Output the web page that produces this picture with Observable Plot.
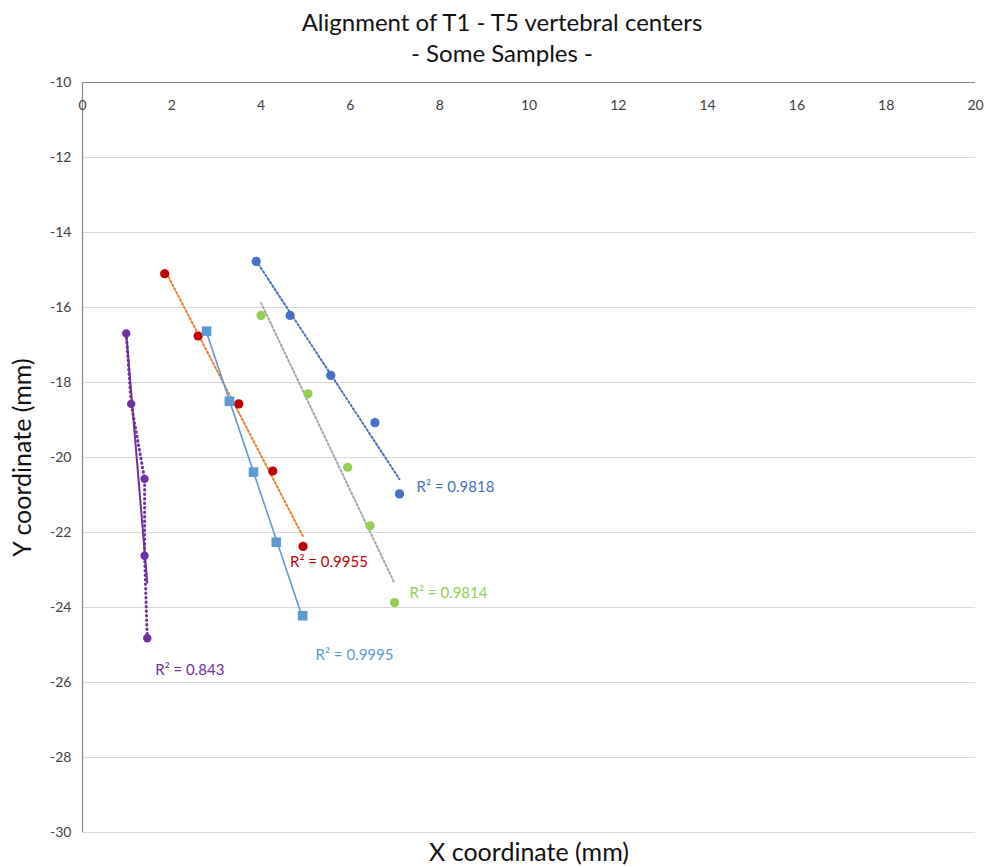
<!DOCTYPE html>
<html>
<head>
<meta charset="utf-8">
<script src="https://cdn.jsdelivr.net/npm/d3@7"></script>
<script src="https://cdn.jsdelivr.net/npm/@observablehq/plot@0.6"></script>
<style>
  body { margin: 0; background: #fff; font-family: Lato, "Open Sans", sans-serif; }
  #title { height: 70px; box-sizing: border-box; padding-top: 6px; text-align: center; font-size: 24px; line-height: 31px; color: #111; width: 988px; padding-left: 16px; }
</style>
</head>
<body>
<div id="title">Alignment of T1 - T5 vertebral centers<br>- Some Samples -</div>
<div id="chart"></div>
<script>
// ---- data ----
const seriesNames = ["Sample 1", "Sample 2", "Sample 3", "Sample 4", "Sample 5"];
const purpleX = [0.98, 1.09, 1.39, 1.39, 1.45];
const purpleY = [-16.69, -18.57, -20.57, -22.62, -24.82];
const redX = [1.84, 2.59, 3.50, 4.26, 4.94];
const redY = [-15.10, -16.76, -18.57, -20.36, -22.37];
const lightBlueX = [2.78, 3.29, 3.83, 4.34, 4.93];
const lightBlueY = [-16.63, -18.50, -20.39, -22.26, -24.22];
const blueX = [3.89, 4.65, 5.56, 6.55, 7.10];
const blueY = [-14.77, -16.21, -17.81, -19.07, -20.97];
const greenX = [4.00, 5.05, 5.94, 6.44, 6.99];
const greenY = [-16.21, -18.30, -20.26, -21.82, -23.87];
const r2Labels = ["R² = 0.843", "R² = 0.9955", "R² = 0.9995", "R² = 0.9818", "R² = 0.9814"];
const xTicks = [0, 2, 4, 6, 8, 10, 12, 14, 16, 18, 20];
const yTicks = [-10, -12, -14, -16, -18, -20, -22, -24, -26, -28, -30];

// ---- styles (kept apart from data) ----
const styles = [
  {color: "#7030A0", trend: "#7030A0", dash: null, symbol: "circle", r: 4.2, connect: true, ldx: 8, ldy: 32},
  {color: "#C00000", trend: "#ED7D31", dash: "1.8,2.4", symbol: "circle", r: 4.6, connect: false, ldx: -13, ldy: 16},
  {color: "#5B9BD5", trend: "#5B9BD5", dash: null, symbol: "square", r: 5.4, connect: false, ldx: 13, ldy: 39},
  {color: "#4472C4", trend: "#4472C4", dash: "1.8,2.4", symbol: "circle", r: 4.6, connect: false, ldx: 17, ldy: -7},
  {color: "#92D050", trend: "#A5A5A5", dash: "1.8,2.4", symbol: "circle", r: 4.6, connect: false, ldx: 15, ldy: -9}
];

const xs = [purpleX, redX, lightBlueX, blueX, greenX];
const ys = [purpleY, redY, lightBlueY, blueY, greenY];
const tables = seriesNames.map((name, i) => xs[i].map((x, j) => ({series: name, x, y: ys[i][j]})));

const marks = [
  Plot.gridY(yTicks, {stroke: "#D9D9D9", strokeOpacity: 1, strokeWidth: 1}),
  Plot.ruleX([0], {stroke: "#868686", strokeWidth: 1.2}),
  Plot.ruleY([-10], {stroke: "#868686", strokeWidth: 1.2}),
  Plot.axisX({anchor: "top", ticks: xTicks, tickSize: 0, tickPadding: 0, dy: 27, label: null, fontSize: 14, color: "#404040", tickFormat: d => String(d)}),
  Plot.axisY({ticks: yTicks, tickSize: 0, tickPadding: 11, label: null, fontSize: 14, color: "#404040", tickFormat: d => String(d)}),
  Plot.text(["Y coordinate (mm)"], {frameAnchor: "left", rotate: -90, dx: -60, textAnchor: "middle", lineAnchor: "middle", fontSize: 25, fill: "#111"}),
  Plot.text(["X coordinate (mm)"], {frameAnchor: "bottom", dy: 20, lineAnchor: "middle", textAnchor: "middle", fontSize: 25, fill: "#111"})
];

tables.forEach((data, i) => {
  const s = styles[i];
  if (s.connect) {
    marks.push(Plot.line(data, {x: "x", y: "y", stroke: s.color, strokeWidth: 3, strokeDasharray: "0.5,4", strokeLinecap: "round"}));
  }
  marks.push(Plot.linearRegressionY(data, {x: "x", y: "y", stroke: s.trend, strokeWidth: s.dash ? 2 : (s.connect ? 2 : 1.6), strokeDasharray: s.dash, ci: 0}));
  marks.push(Plot.dot(data, {x: "x", y: "y", fill: s.color, symbol: s.symbol, r: s.r, stroke: "none"}));
  marks.push(Plot.text(data.slice(-1), {x: "x", y: "y", text: () => r2Labels[i], fill: s.color, fontSize: 15, textAnchor: "start", dx: s.ldx, dy: s.ldy}));
});

const chart = Plot.plot({
  width: 988,
  height: 796,
  marginLeft: 82,
  marginRight: 13,
  marginTop: 12,
  marginBottom: 34,
  style: {fontFamily: "Lato, 'Open Sans', sans-serif", background: "#fff"},
  x: {domain: [0, 20]},
  y: {domain: [-30, -10]},
  marks
});
document.getElementById("chart").appendChild(chart);
</script>
</body>
</html>
